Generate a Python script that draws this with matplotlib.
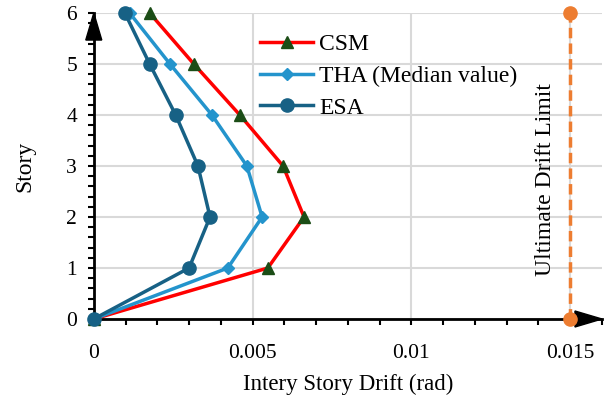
import numpy as np
import matplotlib.pyplot as plt
from matplotlib.ticker import MultipleLocator
from matplotlib.patches import Polygon
from matplotlib.transforms import ScaledTranslation

plt.rcParams['font.family'] = ['Liberation Serif', 'DejaVu Serif']
plt.rcParams['font.size'] = 15.5

story = [0, 1, 2, 3, 4, 5, 6]
csm = [0, 0.00548, 0.00662, 0.00596, 0.00460, 0.00315, 0.00176]
tha = [0, 0.00422, 0.00530, 0.00482, 0.00372, 0.00240, 0.00113]
esa = [0, 0.00300, 0.00366, 0.00328, 0.00258, 0.00176, 0.00098]
limit_x = [0.015, 0.015]
limit_y = [0, 6]

fig = plt.figure(figsize=(6.05, 4.01), dpi=100)
ax = fig.add_axes([0.155, 0.2045, 0.84, 0.763])

ax.plot(limit_x, limit_y, color='#ED7D31', lw=2.5, ls=(0, (3, 1.5)), marker='o', ms=9.5, zorder=3, clip_on=False)
ax.plot(csm, story, color='#FF0000', lw=2.5, marker='^', ms=9, mfc='#1B4D16', mec='#1B4D16', label='CSM', zorder=4, clip_on=False)
ax.plot(tha, story, color='#2494CC', lw=2.5, marker='D', ms=6.5, label='THA (Median value)', zorder=5, clip_on=False)
ax.plot(esa, story, color='#176185', lw=2.5, marker='o', ms=9.5, label='ESA', zorder=6, clip_on=False)

ax.set_xlim(0, 0.016)
ax.set_ylim(0, 6)
ax.set_xticks([0, 0.005, 0.01, 0.015])
ax.set_xticklabels(['0', '0.005', '0.01', '0.015'])
ax.set_yticks(story)
ax.xaxis.set_minor_locator(MultipleLocator(0.001))
ax.yaxis.set_minor_locator(MultipleLocator(0.2))
ax.tick_params(which='both', direction='out', length=4, width=1.5, color='black')
ax.tick_params(axis='x', which='major', pad=14)
ax.tick_params(axis='y', which='major', pad=8)
ax.grid(True, which='major', color='#D9D9D9', lw=1.5, zorder=0)
ax.set_axisbelow(True)

for s in ['top', 'right']:
    ax.spines[s].set_visible(False)
for s in ['left', 'bottom']:
    ax.spines[s].set_linewidth(2)
    ax.spines[s].set_clip_on(False)

# axis arrows (sizes in inches, anchored at axis ends)
tr_x = fig.dpi_scale_trans + ScaledTranslation(1, 0, ax.transAxes)
tr_y = fig.dpi_scale_trans + ScaledTranslation(0, 1, ax.transAxes)
ax.add_patch(Polygon([[0, 0], [-0.27, 0.08], [-0.27, -0.08]], closed=True, color='black',
                     transform=tr_x, clip_on=False, zorder=2.5))
ax.add_patch(Polygon([[0, 0], [-0.08, -0.27], [0.08, -0.27]], closed=True, color='black',
                     transform=tr_y, clip_on=False, zorder=2.5))

ax.set_xlabel('Intery Story Drift (rad)', fontsize=16.5, labelpad=8)
ax.set_ylabel('Story', fontsize=17, labelpad=22)

ax.text(0.01421, 2.73, 'Ultimate Drift Limit', rotation=90, ha='center', va='center', fontsize=17)

ax.legend(loc='upper left', bbox_to_anchor=(0.327, 0.932), frameon=False, handlelength=2.25,
          labelspacing=0.43, handletextpad=0.25, borderpad=0, borderaxespad=0, fontsize=17)

fig.savefig('out.png', dpi=100)
